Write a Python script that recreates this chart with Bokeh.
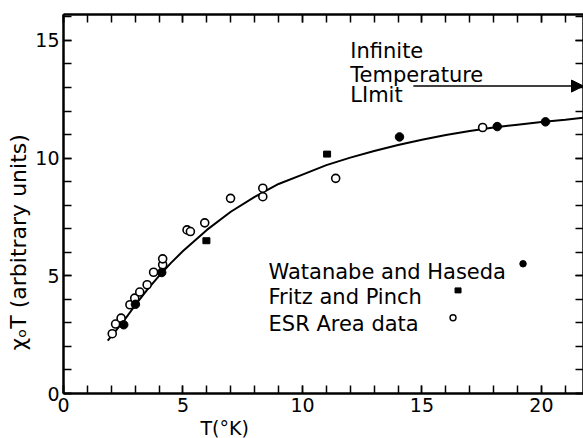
import math
from bokeh.plotting import figure
from bokeh.models import (LinearAxis, SingleIntervalTicker, Range1d, Label, Arrow, NormalHead, Title)
from bokeh.embed import file_html
from bokeh.resources import INLINE

# ---- data ----
curve_T = [1.85, 2.5, 3.0, 3.5, 4.0, 4.5, 5.0, 5.5, 6.0, 7.0, 8.0, 9.0, 10.0, 11.0, 12.0,
           13.0, 14.0, 15.0, 16.0, 17.0, 18.0, 19.0, 20.0, 21.0, 21.8]
curve_XT = [2.25, 3.05, 3.75, 4.4, 5.0, 5.55, 6.05, 6.5, 6.95, 7.72, 8.35, 8.9, 9.3, 9.7, 10.02,
            10.3, 10.56, 10.78, 10.98, 11.15, 11.3, 11.42, 11.53, 11.63, 11.72]

esr_T = [2.04, 2.18, 2.41, 2.78, 2.98, 3.19, 3.50, 3.77, 4.15, 4.15, 5.17, 5.31, 5.91,
         6.99, 8.34, 8.34, 11.39, 17.54]
esr_XT = [2.54, 2.95, 3.2, 3.77, 4.05, 4.31, 4.62, 5.15, 5.47, 5.72, 6.95, 6.88, 7.25,
          8.29, 8.72, 8.36, 9.14, 11.3]

wh_T = [2.52, 3.01, 4.11, 14.06, 18.15, 20.17]
wh_XT = [2.92, 3.79, 5.14, 10.9, 11.34, 11.54]

fp_T = [5.98, 11.03]
fp_XT = [6.49, 10.17]

legend_labels = ["Watanabe and Haseda", "Fritz and Pinch", "ESR Area data"]
x_ticks_interval = 5
FONT = "DejaVu Sans"

p = figure(width=583, height=438, output_backend="svg", toolbar_location=None,
           x_range=Range1d(0, 21.76), y_range=Range1d(0, 16.1),
           x_axis_location=None, y_axis_location=None,
           min_border_left=63, min_border_top=14, min_border_right=0, min_border_bottom=43)
p.background_fill_color = "white"
p.border_fill_color = "white"
p.outline_line_color = None
p.xgrid.visible = False
p.ygrid.visible = False


def make_axis(labels=True):
    ax = LinearAxis(ticker=SingleIntervalTicker(interval=x_ticks_interval, num_minor_ticks=5))
    ax.axis_line_width = 2.5
    ax.axis_line_color = "black"
    ax.major_tick_in = 8
    ax.major_tick_out = 0
    ax.minor_tick_in = 8
    ax.minor_tick_out = 0
    ax.major_tick_line_width = 1.5
    ax.minor_tick_line_width = 1.5
    ax.major_tick_line_color = "black"
    ax.minor_tick_line_color = "black"
    if labels:
        ax.major_label_text_font = FONT
        ax.major_label_text_font_size = "19px"
        ax.major_label_text_color = "black"
        ax.major_label_standoff = 4
    else:
        ax.major_label_text_font_size = "0px"
        ax.major_label_standoff = 0
        ax.major_label_text_alpha = 0
    return ax


p.add_layout(make_axis(), "below")
p.add_layout(make_axis(), "left")
p.add_layout(make_axis(False), "above")
p.add_layout(make_axis(False), "right")

# axis titles (placed off-centre as in the original)
p.add_layout(Title(text="χₒT (arbitrary units)", text_font=FONT, text_font_size="22px",
                   text_font_style="normal", text_color="black", align="left",
                   offset=43, standoff=3), "left")
p.add_layout(Title(text="T(°K)", text_font=FONT, text_font_size="19px",
                   text_font_style="normal", text_color="black", align="left",
                   offset=137, standoff=0), "below")

# curve
p.line(curve_T, curve_XT, line_color="black", line_width=2)

# data points
p.scatter(esr_T, esr_XT, marker="circle", size=8, fill_color="white",
          line_color="black", line_width=1.6)
p.scatter(wh_T, wh_XT, marker="circle", size=8.5, fill_color="black", line_color="black")
p.rect(fp_T, fp_XT, width=7, height=6, width_units="screen", height_units="screen",
       fill_color="black", line_color="black")

# legend (drawn as in the original figure)
leg_y = [5.17, 4.11, 2.97]
for lab, yy in zip(legend_labels, leg_y):
    p.add_layout(Label(x=8.58, y=yy, text=lab, text_font=FONT, text_font_size="21px",
                       text_color="black", text_baseline="alphabetic", text_align="left"))
p.scatter([19.23], [5.51], marker="circle", size=6.5, fill_color="black", line_color="black")
p.rect([16.51], [4.38], width=6, height=5, width_units="screen", height_units="screen",
       fill_color="black", line_color="black")
p.scatter([16.3], [3.22], marker="circle", size=6, fill_color="white",
          line_color="black", line_width=1.4)

# infinite temperature annotation
for txt, yy in zip(["Infinite", "Temperature", "LImit"], [14.53, 13.52, 12.67]):
    p.add_layout(Label(x=12.0, y=yy, text=txt, text_font=FONT, text_font_size="21px",
                       text_color="black", text_baseline="alphabetic", text_align="left"))
p.add_layout(Arrow(x_start=14.64, y_start=13.06, x_end=21.76, y_end=13.06,
                   line_color="black", line_width=1.5,
                   end=NormalHead(size=12, fill_color="black", line_color="black")))

open("out.html", "w").write(file_html(p, INLINE))
